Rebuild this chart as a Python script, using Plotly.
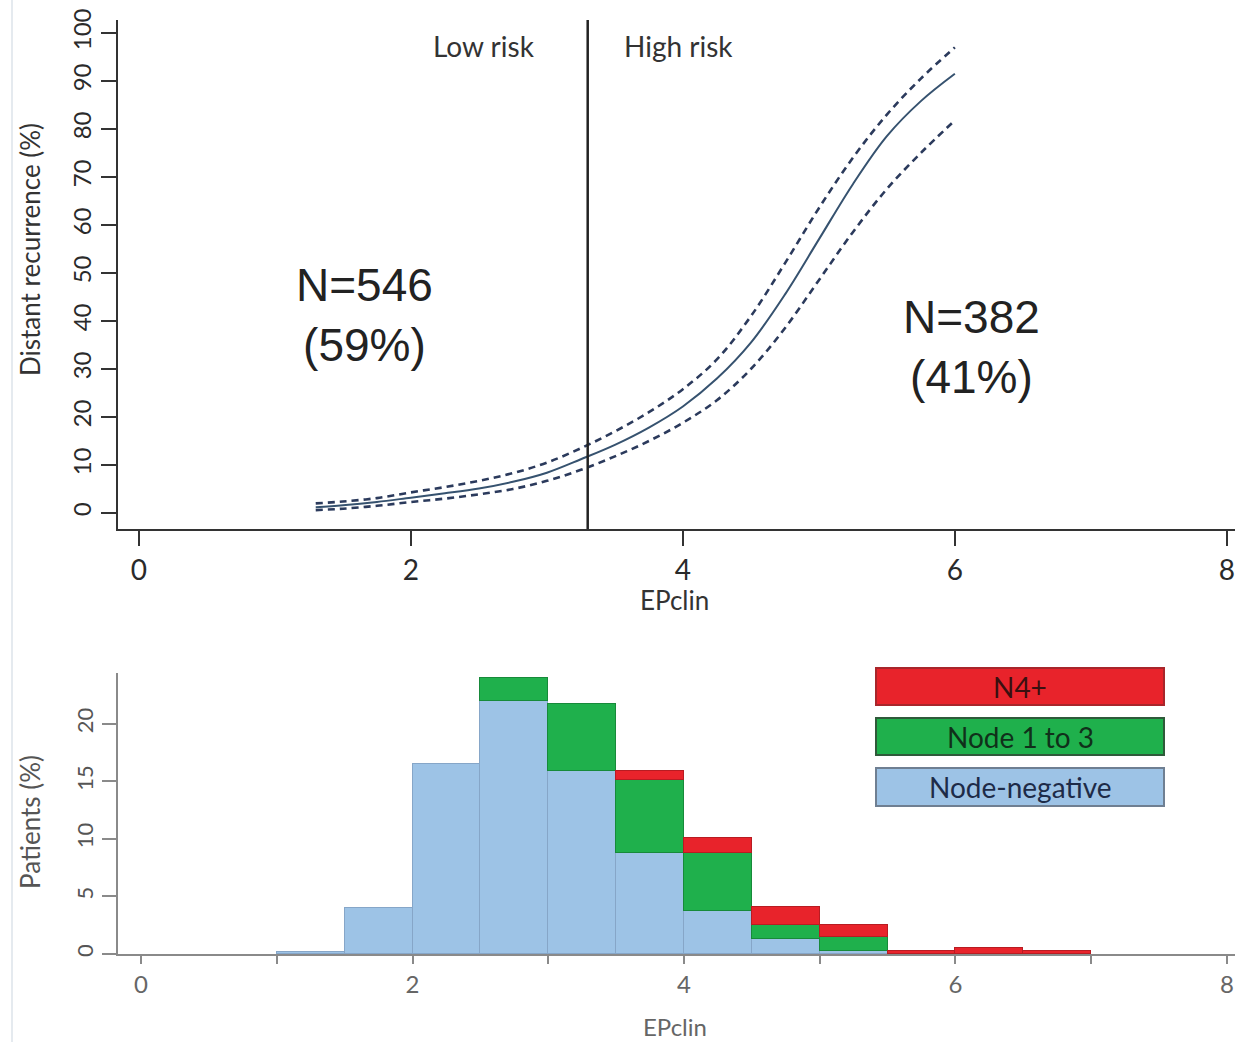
import plotly.graph_objects as go

W, H = 1235, 1042

# ---- Top panel data: predicted distant recurrence vs EPclin ----
ep_x = [1.3, 1.5, 1.75, 2.0, 2.25, 2.5, 2.75, 3.0, 3.25, 3.5, 3.75, 4.0, 4.25, 4.5, 4.75, 5.0, 5.25, 5.5, 5.75, 6.0]
risk_mid = [1.2, 1.6, 2.3, 3.2, 4.1, 5.1, 6.5, 8.4, 11.2, 14.2, 17.8, 22.2, 28.0, 35.5, 45.5, 57.0, 68.5, 78.5, 85.8, 91.5]
risk_upper = [2.0, 2.4, 3.1, 4.3, 5.4, 6.7, 8.3, 10.5, 13.5, 17.0, 21.0, 25.8, 32.0, 41.0, 52.0, 63.5, 74.0, 83.0, 90.5, 97.0]
risk_lower = [0.6, 0.9, 1.5, 2.3, 3.0, 3.9, 5.0, 6.7, 9.0, 11.8, 15.0, 18.8, 23.5, 30.0, 38.5, 48.5, 58.5, 67.5, 75.0, 81.8]
cutoff = 3.3
top_xticks = [0, 2, 4, 6, 8]
top_yticks = [0, 10, 20, 30, 40, 50, 60, 70, 80, 90, 100]

# ---- Bottom panel data: histogram of EPclin by nodal status ----
bin_left = [1.0, 1.5, 2.0, 2.5, 3.0, 3.5, 4.0, 4.5, 5.0, 5.5, 6.0, 6.5]
bin_width = 0.5
node_negative = [0.15, 4.0, 16.5, 22.0, 15.9, 8.8, 3.7, 1.3, 0.3, None, None, None]
node_1_to_3 = [None, None, None, 2.0, 5.8, 6.3, 5.1, 1.2, 1.2, None, None, None]
n4_plus = [None, None, None, None, None, 0.8, 1.3, 1.6, 1.0, 0.3, 0.5, 0.3]
bot_xticks = [0, 1, 2, 3, 4, 5, 6, 7, 8]
bot_xticktext = ["0", "", "2", "", "4", "", "6", "", "8"]
bot_yticks = [0, 5, 10, 15, 20]

FONT = "Lato, 'Open Sans', sans-serif"

fig = go.Figure()

# curves
fig.add_trace(go.Scatter(x=ep_x, y=risk_upper, mode="lines", line=dict(color="#2b3a5c", width=2.6, dash="7px,5px", shape="spline"),
                         xaxis="x", yaxis="y", showlegend=False))
fig.add_trace(go.Scatter(x=ep_x, y=risk_lower, mode="lines", line=dict(color="#2b3a5c", width=2.6, dash="7px,5px", shape="spline"),
                         xaxis="x", yaxis="y", showlegend=False))
fig.add_trace(go.Scatter(x=ep_x, y=risk_mid, mode="lines", line=dict(color="#36526f", width=2, shape="spline"),
                         xaxis="x", yaxis="y", showlegend=False))

# histogram bars
centers = [b + bin_width / 2 for b in bin_left]
for vals, fill, edge in [(node_negative, "#9dc3e6", "#86a6c8"),
                         (node_1_to_3, "#1fb04c", "#178a3a"),
                         (n4_plus, "#e8232b", "#b81c22")]:
    fig.add_trace(go.Bar(x=centers, y=vals, width=bin_width, marker=dict(color=fill, line=dict(color=edge, width=1)),
                         xaxis="x2", yaxis="y2", showlegend=False))

def px_x(p):
    return p / W

def px_y(p):
    return 1 - p / H

fig.update_layout(
    width=W, height=H, margin=dict(l=0, r=0, t=0, b=0, autoexpand=False),
    paper_bgcolor="white", plot_bgcolor="white",
    barmode="stack", bargap=0, showlegend=False,
    font=dict(family=FONT, color="#333"),
    xaxis=dict(domain=[px_x(118), 1], range=[-0.154, 8.06], anchor="y", automargin=False,
               tickvals=top_xticks, ticks="outside", ticklen=15, tickwidth=2, tickcolor="#333",
               showline=True, linecolor="#333", linewidth=2, showgrid=False, zeroline=False,
               tickfont=dict(size=28, color="#2a2a2a", family=FONT)),
    yaxis=dict(domain=[px_y(529), px_y(20)], range=[-3.33, 102.7], anchor="x", automargin=False,
               tickvals=top_yticks, tickangle=-90, ticks="outside", ticklen=15, tickwidth=2, tickcolor="#333",
               showline=True, linecolor="#333", linewidth=2, showgrid=False, zeroline=False,
               tickfont=dict(size=24, color="#2a2a2a", family=FONT)),
    xaxis2=dict(domain=[px_x(118), 1], range=[-0.17, 8.06], anchor="y2", automargin=False,
                tickvals=bot_xticks, ticktext=bot_xticktext, ticks="outside", ticklen=8, tickwidth=2, tickcolor="#8a8a8a",
                showline=True, linecolor="#8a8a8a", linewidth=2, showgrid=False, zeroline=False,
                tickfont=dict(size=24, color="#666", family=FONT)),
    yaxis2=dict(domain=[px_y(954), px_y(673)], range=[0, 24.4], anchor="x2", automargin=False,
                tickvals=bot_yticks, tickangle=-90, ticks="outside", ticklen=14, tickwidth=2, tickcolor="#8a8a8a",
                showline=True, linecolor="#8a8a8a", linewidth=2, showgrid=False, zeroline=False,
                tickfont=dict(size=22, color="#555", family=FONT)),
)

shapes = [
    dict(type="line", xref="x", yref="y domain", x0=cutoff, x1=cutoff, y0=0, y1=1,
         line=dict(color="#222", width=2.5)),
    dict(type="line", xref="paper", yref="paper", x0=px_x(12), x1=px_x(12), y0=0, y1=1,
         line=dict(color="#dde3ea", width=1.5)),
]

def ann(text, x, y, xref="paper", yref="paper", **kw):
    d = dict(text=text, x=x, y=y, xref=xref, yref=yref, showarrow=False, xanchor="center", yanchor="middle")
    d.update(kw)
    return d

NFONT = "'Liberation Sans', Arial, sans-serif"
annotations = [
    ann("Low risk", 2.54, 97.3, "x", "y", font=dict(size=28, color="#333")),
    ann("High risk", 3.97, 97.3, "x", "y", font=dict(size=28, color="#333")),
    ann("N=546<br>(59%)", 1.66, 41.2, "x", "y", font=dict(size=46, color="#222", family=NFONT)),
    ann("N=382<br>(41%)", 6.125, 34.5, "x", "y", font=dict(size=46, color="#222", family=NFONT)),
    ann("Distant recurrence (%)", px_x(30), px_y(250), textangle=-90, font=dict(size=26, color="#333")),
    ann("EPclin", px_x(674), px_y(600), font=dict(size=26, color="#333")),
    ann("Patients (%)", px_x(30), px_y(822), textangle=-90, font=dict(size=26, color="#555")),
    ann("EPclin", px_x(675), px_y(1026), font=dict(size=24, color="#666")),
]

legend_items = [("N4+", "#e8232b", "#a8262b", "#3a1010", 668, 705),
                ("Node 1 to 3", "#1fb04c", "#2f5a3a", "#10301a", 718, 755),
                ("Node-negative", "#9dc3e6", "#6f7f92", "#1d2b48", 768, 806)]
for label, fill, edge, tcol, y0, y1 in legend_items:
    shapes.append(dict(type="rect", xref="paper", yref="paper", x0=px_x(876), x1=px_x(1164),
                       y0=px_y(y1), y1=px_y(y0), fillcolor=fill, line=dict(color=edge, width=2)))
    annotations.append(ann(label, px_x(1020), px_y((y0 + y1) / 2), font=dict(size=28, color=tcol)))

fig.update_layout(shapes=shapes, annotations=annotations)
fig.write_html("out.html")
